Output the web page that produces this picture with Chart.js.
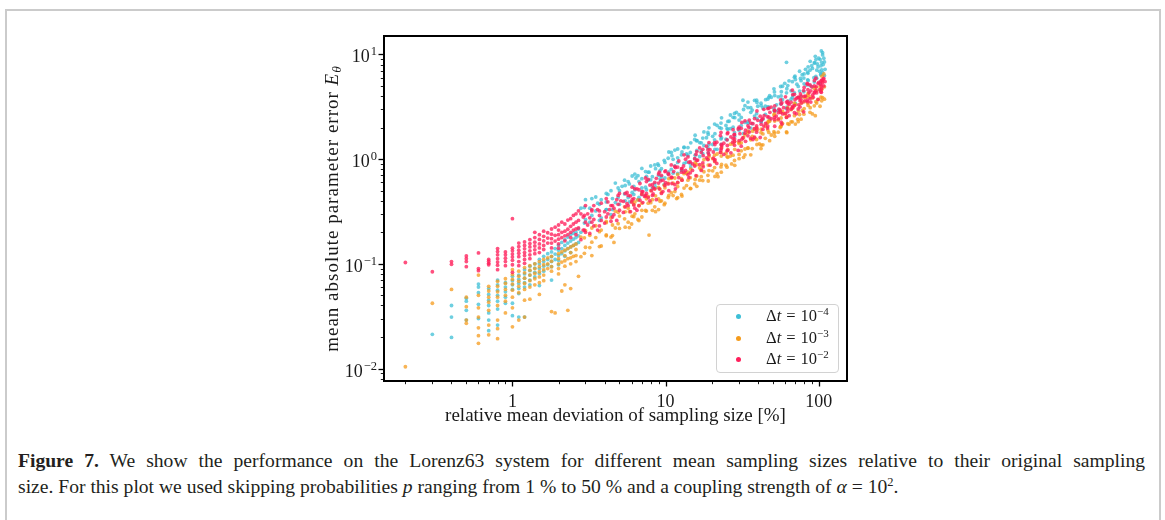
<!DOCTYPE html>
<html>
<head>
<meta charset="utf-8">
<script src="https://cdn.jsdelivr.net/npm/chart.js@4.4.1/dist/chart.umd.min.js"></script>
<style>
  html, body { margin: 0; padding: 0; background: #fff; }
  body { width: 1165px; height: 520px; position: relative; overflow: hidden; font-family: 'Liberation Serif', serif; }
  #frame { position: absolute; left: 5px; top: 9px; width: 1152px; height: 530px; border: 2px solid #cbcbcb; }
  #chart { position: absolute; left: 300px; top: 20px; }
  #legend { position: absolute; left: 716px; top: 304px; width: 121px; height: 67px; border: 1px solid #d2d2d2; border-radius: 4px; background: rgba(255,255,255,0.85); }
  #legend .row { position: absolute; left: 0; height: 20px; width: 100%; font-size: 16.5px; color: #1a1a1a; }
  #legend .dot { position: absolute; left: 19px; top: 8px; width: 5px; height: 5px; border-radius: 50%; }
  #legend .lab { position: absolute; left: 49px; top: 0; white-space: nowrap; }
  #legend .eq { margin: 0 5px; }
  #legend sup { font-size: 11px; vertical-align: 6px; line-height: 0; }
  #caption { position: absolute; left: 18px; top: 448px; font-size: 19.6px; line-height: 26px; color: #231f20; }
  #caption .l1 { width: 1127px; text-align: justify; text-align-last: justify; }
  #caption .l2 { white-space: nowrap; }
  #caption sup { font-size: 12.5px; vertical-align: 7px; line-height: 0; }
</style>
</head>
<body>
<div id="frame"></div>
<canvas id="chart" width="560" height="420"></canvas>
<div id="legend"></div>
<div id="caption"><div class="l1"><b>Figure 7.</b> We show the performance on the Lorenz63 system for different mean sampling sizes relative to their original sampling</div><div class="l2">size. For this plot we used skipping probabilities <i>p</i> ranging from 1 % to 50 % and a coupling strength of <i>α</i> = 10<sup>2</sup>.</div></div>
<script>
// data: [relative mean deviation of sampling size (%), mean absolute parameter error]
const dt4Points = [
  [0.3,0.0212],[0.4,0.04],[0.4,0.031],[0.4,0.0198],
  [0.5,0.047],[0.5,0.044],[0.5,0.036],[0.5,0.029],
  [0.6,0.064],[0.6,0.06],[0.6,0.053],[0.6,0.041],[0.6,0.03],
  [0.7,0.058],[0.7,0.051],[0.7,0.045],[0.7,0.04],[0.7,0.034],[0.7,0.029],[0.7,0.023],
  [0.8,0.07],[0.8,0.063],[0.8,0.056],[0.8,0.05],[0.8,0.044],[0.8,0.037],[0.8,0.026],
  [0.9,0.066],[0.9,0.06],[0.9,0.054],[0.9,0.048],[0.9,0.042],
  [1.0,0.076],[1.0,0.069],[1.0,0.063],[1.0,0.057],[1.0,0.042],[1.0,0.032],
  [1.1,0.078],[1.1,0.071],[1.1,0.065],[1.1,0.058],[1.1,0.052],[1.1,0.031],
  [1.2,0.088],[1.2,0.08],[1.2,0.073],[1.2,0.066],[1.2,0.06],[1.2,0.031],
  [1.3,0.095],[1.3,0.086],[1.3,0.078],[1.3,0.07],[1.3,0.063],
  [1.4,0.1],[1.4,0.091],[1.4,0.083],[1.4,0.075],
  [1.5,0.11],[1.5,0.1],[1.5,0.09],[1.5,0.081],[1.5,0.062],
  [1.6,0.118],[1.6,0.105],[1.6,0.095],[1.6,0.085],
  [1.7,0.125],[1.7,0.11],[1.7,0.098],
  [1.8,0.13],[1.8,0.117],[1.8,0.105],[1.8,0.094],[1.8,0.07],
  [1.9,0.14],[1.9,0.124],[1.9,0.11],
  [2.0,0.15],[2.0,0.135],[2.0,0.12],[2.0,0.108],[2.0,0.098],
  [2.1,0.16],[2.1,0.14],[2.1,0.125],
  [2.2,0.17],[2.2,0.15],[2.2,0.133],[2.2,0.118],
  [2.3,0.18],[2.3,0.158],[2.3,0.14],
  [2.4,0.19],[2.4,0.165],[2.4,0.145],[2.4,0.128],
  [2.5,0.196],[2.5,0.172],[2.5,0.15],
  [2.6,0.2],[2.6,0.178],[2.6,0.155],
  [2.7,0.215],[2.7,0.185],[2.7,0.16],
  [2.8,0.2],[2.8,0.34],[3.0,0.265],[3.0,0.41],[3.2,0.25],[3.2,0.34],[3.5,0.32],[3.5,0.435],
  [3.8,0.275],[3.8,0.41],[4.1,0.33],[4.1,0.39],[4.4,0.295],[4.4,0.5],[4.7,0.385],[4.7,0.59],
  [5.0,0.37],[5.0,0.5],[5.4,0.465],[5.4,0.63],[5.8,0.39],[5.8,0.58],[6.2,0.46],[6.2,0.55],
  [6.6,0.41],[6.6,0.695],[7.0,0.53],[7.0,0.815],[7.5,0.51],[7.5,0.685],[8.0,0.635],[8.0,0.86],
  [8.6,0.54],[8.6,0.81],[9.2,0.645],[9.2,0.775],[9.8,0.575],[9.8,0.975],[10.5,0.755],[10.5,1.17],
  [11.2,0.735],[11.2,0.995],[12,0.93],[12,1.25],[12.8,0.785],[12.8,1.17],[13.7,0.935],[13.7,1.12],
  [14.6,0.84],[14.6,1.43],[15.6,1.09],[15.6,1.69],[16.7,1.06],[16.7,1.44],[17.8,1.35],[17.8,1.82],
  [19,1.15],[19,1.72],[20.3,1.38],[20.3,1.65],[21.7,1.24],[21.7,2.1],[23.2,1.6],[23.2,2.48],
  [24.8,1.55],[24.8,2.1],[26.5,1.96],[26.5,2.64],[28.3,1.66],[28.3,2.49],[30.2,1.96],[30.2,2.36],
  [32.3,1.76],[32.3,2.98],[34.5,2.27],[34.5,3.51],[36.8,2.18],[36.8,2.94],[39.3,2.72],[39.3,3.66],
  [42,2.28],[42,3.42],[44.8,2.68],[44.8,3.21],[47.8,2.38],[47.8,4.03],[51,3.04],[51,4.69],
  [54.4,2.92],[54.4,3.94],[58,3.69],[58,4.97],[61.9,3.13],[61.9,4.7],[66,3.74],[66,4.49],
  [70.4,3.4],[70.4,5.76],[75,4.47],[75,6.91],[80,4.4],[80,5.94],[85.3,5.65],[85.3,7.62],
  [91,4.9],[91,7.35],[97,5.91],[97,7.09],[102,5.29],[102,8.97],[106,6.73],[106,10.4],
  [109,6.28],[109,8.48],
  [61.6,8.4],[32,3.65],[88,8.6],[95,9.6],[104,10.8],[100,9.2],[78,6.4],[72,5.2],[64,5.6],
  [57,4.4],[49,3.9],[45,3.7],[40,3.2],[36,3.1],[29,2.8],[26,2.3],[22.5,2.0],[18.5,1.6],
  [16,1.5],[13.2,1.3],[11,1.08],[8.9,0.9],[7.8,0.75],[6.4,0.66],[5.2,0.55],[4.2,0.46],
  [3.6,0.38],[107,8.0],[103,6.4],[98,8.1],[93,6.0],[83,5.1],[68,4.1],[53,3.3],
  [2.95,0.345],[2.95,0.245],[3.3,0.42],[3.3,0.29],[3.7,0.26],[3.7,0.37],[4.1,0.47],[4.1,0.33],
  [4.5,0.42],[4.5,0.33],[4.9,0.53],[4.9,0.43],[5.45,0.56],[5.45,0.4],[6.05,0.69],[6.05,0.48],
  [6.7,0.43],[6.7,0.61],[7.4,0.76],[7.4,0.54],[8.2,0.68],[8.2,0.53],[9,0.87],[9,0.7],
  [9.9,0.93],[9.9,0.66],[10.9,1.16],[10.9,0.8],[12,0.73],[12,1.03],[13.2,1.29],[13.2,0.91],
  [14.5,1.16],[14.5,0.9],[16,1.5],[16,1.21],[17.5,1.59],[17.5,1.13],[19.2,1.99],[19.2,1.38],
  [21,1.24],[21,1.75],[23,2.21],[23,1.56],[25.2,1.96],[25.2,1.53],[27.6,2.51],[27.6,2.02],
  [30.2,2.66],[30.2,1.89],[33,3.24],[33,2.24],[36,1.98],[36,2.8],[39.5,3.48],[39.5,2.45],
  [43.2,3.08],[43.2,2.4],[47.2,3.89],[47.2,3.14],[51.6,4.05],[51.6,2.89],[56.4,4.94],[56.4,3.42],
  [61.6,3.03],[61.6,4.3],[67.3,5.49],[67.3,3.87],[73.5,4.95],[73.5,3.86],[80.3,6.51],[80.3,5.24],
  [87.7,7.07],[87.7,5.04],[95.8,8.9],[95.8,6.17],[104.6,7.13],[104.6,8.4],
  [90,7.8],[99,7.6],[108,9.2],[110,7.2],[85,6.6],[76,5.9],[70,6.2],[60,5.3],[94,8.3],
  [101,6.9],[106,9.9],[82,7.2],
  [5.7,0.43],[5.7,0.61],[6.3,0.72],[6.3,0.51],[7.0,0.46],[7.0,0.65],[7.7,0.75],[7.7,0.63],
  [8.5,0.58],[8.5,0.88],[9.4,0.81],[9.4,0.68],[10.4,0.72],[10.4,1.02],[11.5,1.22],[11.5,0.86],
  [12.7,0.78],[12.7,1.1],[14,1.29],[14,1.09],[15.5,1.01],[15.5,1.54],[17.1,1.43],[17.1,1.2],
  [18.9,1.28],[18.9,1.8],[20.9,2.16],[20.9,1.53],[23.1,1.38],[23.1,1.97],[25.5,2.29],[25.5,1.93],
  [28.2,1.79],[28.2,2.73],[31.2,2.5],[31.2,2.09],[34.5,2.2],[34.5,3.11],[38.1,3.64],[38.1,2.58],
  [42.1,2.28],[42.1,3.24],[46.5,3.74],[46.5,3.15],[51.4,2.87],[51.4,4.38],[56.8,4.01],[56.8,3.36],
  [62.8,3.57],[62.8,5.04],[69.4,6.07],[69.4,4.3],[76.7,3.95],[76.7,5.62],[84.7,6.79],[84.7,5.72],
  [93.6,5.45],[93.6,8.3],[103.4,7.8],[103.4,6.5]
];

const dt3Points = [
  [0.2,0.0104],[0.3,0.042],[0.4,0.057],
  [0.5,0.048],[0.5,0.039],[0.5,0.029],[0.5,0.027],
  [0.6,0.078],[0.6,0.05],[0.6,0.038],[0.6,0.031],[0.6,0.0245],[0.6,0.0206],[0.6,0.0174],
  [0.7,0.061],[0.7,0.055],[0.7,0.048],[0.7,0.043],[0.7,0.036],[0.7,0.026],[0.7,0.021],
  [0.8,0.068],[0.8,0.061],[0.8,0.054],[0.8,0.048],[0.8,0.04],[0.8,0.029],[0.8,0.024],[0.8,0.0193],
  [0.9,0.072],[0.9,0.065],[0.9,0.057],[0.9,0.05],[0.9,0.044],[0.9,0.034],
  [1.0,0.088],[1.0,0.079],[1.0,0.071],[1.0,0.064],[1.0,0.056],[1.0,0.048],[1.0,0.038],[1.0,0.025],
  [1.1,0.085],[1.1,0.076],[1.1,0.068],[1.1,0.061],[1.1,0.053],[1.1,0.029],
  [1.2,0.092],[1.2,0.082],[1.2,0.073],[1.2,0.065],[1.2,0.057],[1.2,0.045],[1.2,0.031],
  [1.3,0.096],[1.3,0.087],[1.3,0.078],[1.3,0.069],[1.3,0.06],[1.3,0.046],
  [1.4,0.1],[1.4,0.09],[1.4,0.081],[1.4,0.072],[1.4,0.063],
  [1.5,0.105],[1.5,0.094],[1.5,0.084],[1.5,0.075],[1.5,0.066],[1.5,0.051],
  [1.6,0.11],[1.6,0.098],[1.6,0.088],[1.6,0.078],[1.6,0.069],
  [1.7,0.114],[1.7,0.1],[1.7,0.09],
  [1.8,0.118],[1.8,0.106],[1.8,0.094],[1.8,0.085],[1.8,0.035],[1.9,0.034],
  [2.0,0.125],[2.0,0.112],[2.0,0.1],[2.0,0.09],[2.0,0.08],
  [2.1,0.13],[2.1,0.104],[2.1,0.055],
  [2.2,0.135],[2.2,0.12],[2.2,0.107],[2.2,0.095],[2.2,0.063],
  [2.3,0.14],[2.3,0.112],[2.3,0.036],
  [2.4,0.145],[2.4,0.128],[2.4,0.114],[2.4,0.1],[2.4,0.058],
  [2.5,0.15],[2.5,0.118],
  [2.6,0.155],[2.6,0.137],[2.6,0.12],[2.6,0.105],[2.7,0.076],
  [2.8,0.117],[2.8,0.18],[3.0,0.144],[3.0,0.208],[3.2,0.143],[3.2,0.187],[3.5,0.178],[3.5,0.231],
  [3.8,0.148],[3.8,0.21],[4.1,0.189],[4.1,0.247],[4.4,0.18],[4.4,0.276],[4.7,0.22],[4.7,0.318],
  [5.0,0.218],[5.0,0.286],[5.4,0.269],[5.4,0.35],[5.8,0.222],[5.8,0.315],[6.2,0.282],[6.2,0.368],
  [6.6,0.265],[6.6,0.408],[7.0,0.324],[7.0,0.468],[7.5,0.319],[7.5,0.418],[8.0,0.384],[8.0,0.5],
  [8.6,0.315],[8.6,0.446],[9.2,0.396],[9.2,0.518],[9.8,0.367],[9.8,0.564],[10.5,0.45],[10.5,0.65],
  [11.2,0.449],[11.2,0.589],[12,0.547],[12,0.713],[12.8,0.444],[12.8,0.63],[13.7,0.559],[13.7,0.73],
  [14.6,0.523],[14.6,0.804],[15.6,0.639],[15.6,0.923],[16.7,0.63],[16.7,0.825],[17.8,0.758],[17.8,0.988],
  [19,0.618],[19,0.877],[20.3,0.774],[20.3,1.01],[21.7,0.725],[21.7,1.12],[23.2,0.891],[23.2,1.29],
  [24.8,0.874],[24.8,1.14],[26.5,1.07],[26.5,1.39],[28.3,0.873],[28.3,1.24],[30.2,1.11],[30.2,1.45],
  [32.3,1.04],[32.3,1.6],[34.5,1.28],[34.5,1.85],[36.8,1.26],[36.8,1.65],[39.3,1.54],[39.3,2.0],
  [42,1.26],[42,1.79],[44.8,1.58],[44.8,2.07],[47.8,1.5],[47.8,2.3],[51,1.83],[51,2.64],
  [54.4,1.81],[54.4,2.37],[58,2.19],[58,2.85],[61.9,1.79],[61.9,2.54],[66,2.27],[66,2.97],
  [70.4,2.16],[70.4,3.32],[75,2.67],[75,3.86],[80,2.69],[80,3.52],[85.3,3.26],[85.3,4.25],
  [91,2.7],[91,3.83],[97,3.43],[97,4.49],[102,3.2],[102,4.92],[106,3.87],[106,5.59],
  [109,3.74],[109,4.9],[105,6.2],[108,6.5],
  [7.8,0.188],[95,2.6],[73,2.4],[3.3,0.12],[4.6,0.16],[6,0.24],[9,0.33],[11.8,0.42],
  [16,0.55],[22,0.68],[27,0.9],[33,1.1],[41,1.4],[49,1.7],[56,2.0],[64,2.15],[78,2.9],
  [88,3.1],[99,3.7],[104,4.6],[37,1.85],[46,2.2],[60,2.7],[68,3.1],[83,3.9],
  [2.95,0.177],[2.95,0.126],[3.3,0.22],[3.3,0.161],[3.7,0.146],[3.7,0.203],[4.1,0.254],[4.1,0.185],
  [4.5,0.235],[4.5,0.186],[4.9,0.311],[4.9,0.242],[5.45,0.314],[5.45,0.224],[6.05,0.39],[6.05,0.285],
  [6.7,0.259],[6.7,0.359],[7.4,0.443],[7.4,0.323],[8.2,0.41],[8.2,0.324],[9,0.537],[9,0.418],
  [9.9,0.532],[9.9,0.38],[10.9,0.655],[10.9,0.478],[12,0.428],[12,0.593],[13.2,0.726],[13.2,0.529],
  [14.5,0.665],[14.5,0.525],[16,0.885],[16,0.689],[17.5,0.874],[17.5,0.624],[19.2,1.06],[19.2,0.777],
  [21,0.683],[21,0.946],[23,1.16],[23,0.843],[25.2,1.06],[25.2,0.837],[27.6,1.4],[27.6,1.09],
  [30.2,1.41],[30.2,1.01],[33,1.71],[33,1.25],[36,1.1],[36,1.53],[39.5,1.89],[39.5,1.38],
  [43.2,1.74],[43.2,1.37],[47.2,2.32],[47.2,1.8],[51.6,2.31],[51.6,1.65],[56.4,2.81],[56.4,2.05],
  [61.6,1.82],[61.6,2.52],[67.3,3.12],[67.3,2.27],[73.5,2.88],[73.5,2.28],[80.3,3.9],[80.3,3.04],
  [87.7,3.92],[87.7,2.8],[95.8,4.85],[95.8,3.54],[104.6,3.61],[104.6,4.62],
  [5.7,0.25],[5.7,0.34],[6.3,0.39],[6.3,0.3],[7.0,0.28],[7.0,0.38],[7.7,0.44],[7.7,0.38],
  [8.5,0.35],[8.5,0.52],[9.4,0.48],[9.4,0.4],[10.4,0.43],[10.4,0.59],[11.5,0.66],[11.5,0.49],
  [12.7,0.46],[12.7,0.65],[14,0.75],[14,0.63],[15.5,0.58],[15.5,0.88],[17.1,0.8],[17.1,0.68],
  [18.9,0.7],[18.9,1.0],[20.9,1.09],[20.9,0.83],[23.1,0.75],[23.1,1.07],[25.5,1.23],[25.5,1.04],
  [28.2,0.97],[28.2,1.47],[31.2,1.43],[31.2,1.2],[34.5,1.27],[34.5,1.79],[38.1,1.93],[38.1,1.59],
  [42.1,1.36],[42.1,1.93],[46.5,2.25],[46.5,1.9],[51.4,1.77],[51.4,2.7],[56.8,2.47],[56.8,2.07],
  [62.8,2.18],[62.8,3.1],[69.4,3.43],[69.4,2.6],[76.7,2.41],[76.7,3.42],[84.7,4.07],[84.7,3.43],
  [93.6,3.23],[93.6,4.72],[103.4,4.57],[103.4,3.9]
];

const dt2Points = [
  [0.2,0.103],[0.3,0.084],[0.4,0.105],[0.4,0.099],
  [0.5,0.119],[0.5,0.112],[0.5,0.105],[0.5,0.094],
  [0.6,0.127],[0.6,0.09],[0.6,0.086],
  [0.7,0.11],[0.7,0.106],[0.7,0.101],[0.7,0.098],
  [0.8,0.14],[0.8,0.131],[0.8,0.122],[0.8,0.112],[0.8,0.104],[0.8,0.097],[0.8,0.088],
  [0.9,0.13],[0.9,0.122],[0.9,0.113],[0.9,0.105],[0.9,0.096],
  [1.0,0.27],[1.0,0.141],[1.0,0.133],[1.0,0.124],[1.0,0.116],[1.0,0.108],[1.0,0.098],[1.0,0.083],
  [1.1,0.158],[1.1,0.146],[1.1,0.135],[1.1,0.126],[1.1,0.117],[1.1,0.105],[1.1,0.096],
  [1.2,0.162],[1.2,0.15],[1.2,0.139],[1.2,0.128],[1.2,0.12],[1.2,0.11],[1.2,0.101],
  [1.3,0.17],[1.3,0.156],[1.3,0.145],[1.3,0.133],[1.3,0.122],[1.3,0.112],
  [1.4,0.2],[1.4,0.178],[1.4,0.161],[1.4,0.148],[1.4,0.136],[1.4,0.125],
  [1.5,0.19],[1.5,0.171],[1.5,0.155],[1.5,0.142],[1.5,0.128],
  [1.6,0.205],[1.6,0.183],[1.6,0.166],[1.6,0.15],[1.6,0.137],
  [1.7,0.198],[1.7,0.176],[1.7,0.158],
  [1.8,0.215],[1.8,0.192],[1.8,0.174],[1.8,0.158],[1.8,0.142],
  [1.9,0.224],[1.9,0.187],[1.9,0.165],
  [2.0,0.235],[2.0,0.21],[2.0,0.19],[2.0,0.172],[2.0,0.155],[2.0,0.141],
  [2.1,0.25],[2.1,0.2],[2.1,0.178],
  [2.2,0.24],[2.2,0.205],[2.2,0.185],[2.2,0.166],
  [2.3,0.262],[2.3,0.214],[2.3,0.19],
  [2.4,0.27],[2.4,0.228],[2.4,0.2],[2.4,0.178],
  [2.5,0.29],[2.5,0.24],[2.5,0.21],
  [2.6,0.3],[2.6,0.25],[2.6,0.215],[2.6,0.19],
  [2.7,0.32],[2.7,0.26],[2.7,0.22],
  [2.8,0.17],[2.8,0.3],[2.9,0.28],[2.9,0.21],[3.0,0.25],[3.0,0.2],[3.0,0.36],[3.1,0.235],[3.1,0.3],
  [3.2,0.195],[3.2,0.275],[3.4,0.23],[3.4,0.265],[3.4,0.36],[3.6,0.21],[3.6,0.33],[3.8,0.26],[3.8,0.38],
  [4.0,0.245],[4.0,0.315],[4.2,0.3],[4.2,0.39],[4.4,0.255],[4.4,0.36],[4.6,0.295],[4.6,0.34],
  [4.8,0.26],[4.8,0.41],[5.0,0.325],[5.0,0.47],[5.3,0.31],[5.3,0.395],[5.6,0.375],[5.6,0.48],
  [5.9,0.315],[5.9,0.445],[6.2,0.365],[6.2,0.42],[6.5,0.325],[6.5,0.52],[6.8,0.405],[6.8,0.585],
  [7.1,0.385],[7.1,0.49],[7.5,0.47],[7.5,0.61],[7.9,0.4],[7.9,0.565],[8.3,0.465],[8.3,0.535],
  [8.7,0.41],[8.7,0.655],[9.1,0.52],[9.1,0.75],[9.6,0.49],[9.6,0.63],[10,0.595],[10,0.77],
  [10.5,0.5],[10.5,0.71],[11,0.585],[11,0.67],[11.6,0.52],[11.6,0.83],[12.2,0.665],[12.2,0.96],
  [12.8,0.63],[12.8,0.81],[13.5,0.78],[13.5,1.0],[14.2,0.665],[14.2,0.935],[15,0.78],[15,0.9],
  [15.8,0.695],[15.8,1.11],[16.7,0.885],[16.7,1.28],[17.6,0.845],[17.6,1.08],[18.5,1.03],[18.5,1.33],
  [19.5,0.875],[19.5,1.23],[20.5,1.02],[20.5,1.17],[21.6,0.91],[21.6,1.45],[22.8,1.16],[22.8,1.68],
  [24,1.11],[24,1.42],[25.3,1.35],[25.3,1.75],[26.7,1.15],[26.7,1.63],[28.2,1.36],[28.2,1.56],
  [29.8,1.21],[29.8,1.94],[31.5,1.55],[31.5,2.24],[33.3,1.48],[33.3,1.89],[35.2,1.82],[35.2,2.36],
  [37.2,1.54],[37.2,2.18],[39.3,1.81],[39.3,2.08],[41.5,1.61],[41.5,2.57],[43.8,2.07],[43.8,2.99],
  [46.3,1.98],[46.3,2.54],[48.9,2.43],[48.9,3.14],[51.6,2.06],[51.6,2.9],[54.5,2.42],[54.5,2.78],
  [57.5,2.16],[57.5,3.45],[60.7,2.73],[60.7,3.94],[64.1,2.6],[64.1,3.33],[67.7,3.2],[67.7,4.13],
  [71.5,2.71],[71.5,3.83],[75.5,3.15],[75.5,3.62],[79.7,2.83],[79.7,4.52],[84.1,3.66],[84.1,5.29],
  [88.8,3.51],[88.8,4.49],[93.8,4.37],[93.8,5.64],[99,3.73],[99,5.26],[104,4.35],[104,5.0],
  [108,5.0],[108,5.9],
  [52.8,2.58],[56,2.95],[59,3.1],[62.4,3.05],[66,3.5],[69.5,3.25],[73.5,3.9],[77.5,3.45],
  [82,4.0],[86.4,4.3],[91.2,4.1],[96.3,4.9],[101.5,4.6],[106,5.4],[38,1.95],[42.6,2.4],
  [45,2.2],[30.6,1.75],[27.4,1.45],[23.3,1.35],[19,1.15],[16.2,0.98],[13.1,0.86],[11.3,0.76],
  [9.3,0.62],[8.1,0.5],[7.3,0.44],[6.0,0.39],[5.1,0.4],[4.3,0.33],[3.7,0.29],[3.3,0.32],
  [2.95,0.29],[2.95,0.21],[3.3,0.33],[3.3,0.25],[3.7,0.23],[3.7,0.32],[4.1,0.42],[4.1,0.28],
  [4.5,0.36],[4.5,0.28],[4.9,0.45],[4.9,0.37],[5.45,0.47],[5.45,0.35],[6.05,0.54],[6.05,0.41],
  [6.7,0.36],[6.7,0.51],[7.4,0.66],[7.4,0.45],[8.2,0.57],[8.2,0.45],[9,0.72],[9,0.59],
  [9.9,0.76],[9.9,0.56],[10.9,0.88],[10.9,0.67],[12,0.6],[12,0.84],[13.2,1.1],[13.2,0.75],
  [14.5,0.94],[14.5,0.74],[16,1.18],[16,0.97],[17.5,1.24],[17.5,0.92],[19.2,1.44],[19.2,1.1],
  [21,0.99],[21,1.38],[23,1.8],[23,1.22],[25.2,1.53],[25.2,1.2],[27.6,1.91],[27.6,1.57],
  [30.2,2.02],[30.2,1.5],[33,2.32],[33,1.77],[36,1.58],[36,2.21],[39.5,2.89],[39.5,1.95],
  [43.2,2.45],[43.2,1.92],[47.2,3.07],[47.2,2.52],[51.6,3.22],[51.6,2.38],[56.4,3.68],[56.4,2.81],
  [61.6,2.5],[61.6,3.51],[67.3,4.55],[67.3,3.08],[73.5,3.86],[73.5,3.02],[80.3,4.84],[80.3,3.98],
  [87.7,5.12],[87.7,3.78],[95.8,5.92],[95.8,4.51],[104.6,4.73],[104.6,5.67],
  [55,3.0],[63,3.4],[70,3.7],[76,4.2],[85,4.6],[90,4.9],[100,5.4],[107,5.8],[58,2.7],
  [66,3.0],[74,3.3],[81,3.6],[92,3.9],[97,4.3],[110,5.5],[103,5.2],[35,2.0],[44,2.6],
  [28,1.7],[32,1.6],[48,2.8],[40,2.35],
  [5.7,0.36],[5.7,0.45],[6.3,0.52],[6.3,0.34],[7.0,0.46],[7.0,0.49],[7.7,0.43],[7.7,0.64],
  [8.5,0.6],[8.5,0.52],[9.4,0.47],[9.4,0.7],[10.4,0.58],[10.4,0.73],[11.5,0.85],[11.5,0.57],
  [12.7,0.75],[12.7,0.81],[14,0.71],[14,1.05],[15.5,1.01],[15.5,0.86],[17.1,0.78],[17.1,1.16],
  [18.9,0.99],[18.9,1.23],[20.9,1.44],[20.9,0.96],[23.1,1.27],[23.1,1.38],[25.5,1.22],[25.5,1.79],
  [28.2,1.72],[28.2,1.47],[31.2,1.33],[31.2,1.97],[34.5,1.67],[34.5,2.08],[38.1,2.44],[38.1,1.62],
  [42.1,2.15],[42.1,2.33],[46.5,2.07],[46.5,3.04],[51.4,2.93],[51.4,2.5],[56.8,2.26],[56.8,3.36],
  [62.8,2.85],[62.8,3.55],[69.4,4.16],[69.4,2.78],[76.7,3.69],[76.7,3.99],[84.7,3.53],[84.7,5.19],
  [93.6,5.0],[93.6,4.28],[103.4,4.4],[103.4,5.55]
];

const seriesNames = ['dt4Points', 'dt3Points', 'dt2Points'];
const seriesExponents = [-4, -3, -2];
const seriesColors = ['#3dbfd6', '#f59b1c', '#ff1f5b'];
const seriesFills = ['rgba(61,191,214,0.75)', 'rgba(245,155,28,0.75)', 'rgba(255,31,91,0.78)'];
const xTickValues = [1, 10, 100];
const yTickExponents = [-2, -1, 0, 1];

const allSeries = [dt4Points, dt3Points, dt2Points];

// legend (HTML so that the math can be styled)
const legendEl = document.getElementById('legend');
seriesExponents.forEach((e, i) => {
  const row = document.createElement('div');
  row.className = 'row';
  row.style.top = (1 + i * 21.6) + 'px';
  row.innerHTML = '<span class="dot" style="background:' + seriesColors[i] + '"></span>' +
    '<span class="lab">\u0394<i>t</i><span class="eq">=</span>10<sup>\u2212' + Math.abs(e) + '</sup></span>';
  legendEl.appendChild(row);
});

function isDecade(v) {
  const e = Math.log10(v);
  return Math.abs(e - Math.round(e)) < 1e-6;
}

// box, ticks, y labels and y title
const axesDecor = {
  id: 'axesDecor',
  afterDatasetsDraw(chart) {
    const {ctx, chartArea: a, scales: {x, y}} = chart;
    ctx.save();
    ctx.strokeStyle = '#000';
    for (let e = -2; e <= 3; e++) {
      for (let k = 1; k <= 9; k++) {
        const v = k * Math.pow(10, e);
        if (v < x.min || v > x.max) continue;
        const px = Math.round(x.getPixelForValue(v)) + 0.5;
        ctx.lineWidth = k === 1 ? 1.3 : 0.9;
        ctx.beginPath();
        ctx.moveTo(px, a.bottom);
        ctx.lineTo(px, a.bottom + (k === 1 ? 5.5 : 3.2));
        ctx.stroke();
      }
    }
    for (let e = -3; e <= 2; e++) {
      for (let k = 1; k <= 9; k++) {
        const v = k * Math.pow(10, e);
        if (v < y.min || v > y.max) continue;
        const py = Math.round(y.getPixelForValue(v)) + 0.5;
        ctx.lineWidth = k === 1 ? 1.3 : 0.9;
        ctx.beginPath();
        ctx.moveTo(a.left, py);
        ctx.lineTo(a.left - (k === 1 ? 5.5 : 3.2), py);
        ctx.stroke();
      }
    }
    ctx.lineWidth = 2;
    ctx.strokeRect(a.left, a.top, a.right - a.left, a.bottom - a.top);

    // y tick labels 10^e
    ctx.fillStyle = '#1a1a1a';
    ctx.textBaseline = 'alphabetic';
    ctx.textAlign = 'left';
    yTickExponents.forEach(e => {
      const py = y.getPixelForValue(Math.pow(10, e));
      const exp = e < 0 ? '\u2212' + Math.abs(e) : String(e);
      ctx.font = '12.5px "Liberation Serif"';
      const ew = ctx.measureText(exp).width;
      ctx.font = '18px "Liberation Serif"';
      const bw = ctx.measureText('10').width;
      const right = a.left - 7;
      const x0 = right - ew - bw - 1;
      ctx.fillText('10', x0, py + 8);
      ctx.font = '12.5px "Liberation Serif"';
      ctx.fillText(exp, x0 + bw + 1, py + 1);
    });

    // y title: mean absolute parameter error E_theta
    const parts = [
      {t: 'mean absolute parameter error ', f: '19px "Liberation Serif"', dy: 0},
      {t: 'E', f: 'italic 19px "Liberation Serif"', dy: 0},
      {t: '\u03b8', f: 'italic 13.5px "Liberation Serif"', dy: 4}
    ];
    ctx.letterSpacing = '1px';
    let total = 0;
    parts.forEach(p => { ctx.font = p.f; p.w = ctx.measureText(p.t).width; total += p.w; });
    ctx.translate(a.left - 51, (a.top + a.bottom) / 2);
    ctx.rotate(-Math.PI / 2);
    ctx.textBaseline = 'middle';
    let cx = -total / 2;
    parts.forEach(p => {
      ctx.font = p.f;
      ctx.fillText(p.t, cx, p.dy);
      cx += p.w;
    });
    ctx.restore();
  }
};

const data = {
  datasets: allSeries.map((pts, i) => ({
    label: seriesNames[i],
    data: pts.map(([x, y]) => ({x, y})),
    backgroundColor: seriesFills[i],
    borderWidth: 0,
    pointRadius: 1.9,
    order: 3 - i
  }))
};

const config = {
  type: 'scatter',
  data,
  options: {
    responsive: false,
    animation: false,
    layout: { padding: { left: 0, right: 13, top: 16, bottom: 0 } },
    plugins: { legend: { display: false }, tooltip: { enabled: false } },
    scales: {
      x: {
        type: 'logarithmic',
        min: 0.145,
        max: 153,
        grid: { display: false },
        border: { display: false },
        afterBuildTicks: s => { s.ticks = xTickValues.map(v => ({value: v})); },
        afterFit: s => { s.height = 59; },
        ticks: {
          autoSkip: false,
          maxRotation: 0,
          padding: 2,
          color: '#1a1a1a',
          font: { family: 'Liberation Serif', size: 18 },
          callback: v => isDecade(v) ? String(Math.round(v)) : ''
        },
        title: {
          display: true,
          text: 'relative mean deviation of sampling size [%]',
          color: '#1a1a1a',
          font: { family: 'Liberation Serif', size: 19 },
          padding: { top: 0, bottom: 13 }
        }
      },
      y: {
        type: 'logarithmic',
        min: 0.0076,
        max: 15,
        grid: { display: false },
        border: { display: false },
        ticks: { display: false },
        afterFit: s => { s.width = 84; }
      }
    }
  },
  plugins: [axesDecor]
};

const myChart = new Chart(document.getElementById('chart'), config);
</script>
</body>
</html>
